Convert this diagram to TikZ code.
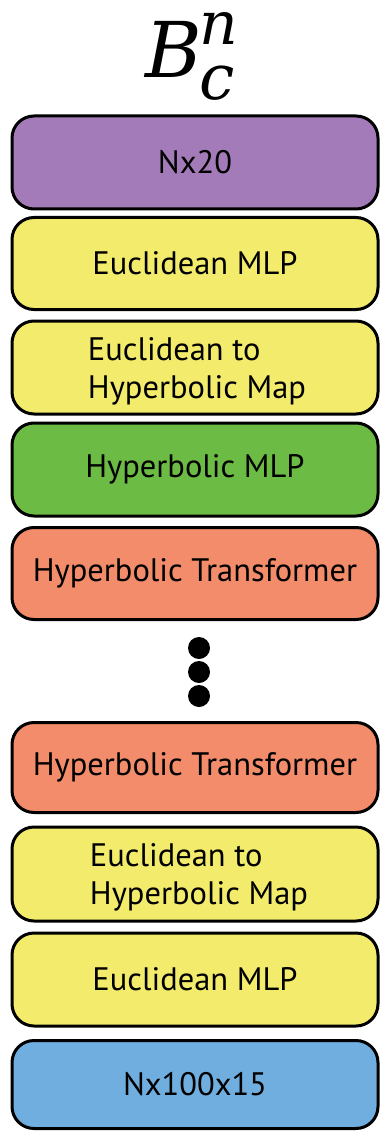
\documentclass[tikz,border=0pt]{standalone}
\usepackage{fontspec}
\newfontfamily\labelfont{PT Sans}
\newfontfamily\symbolfont{DejaVu Serif}
\definecolor{inputpurple}{HTML}{A47BB9}
\definecolor{eucyellow}{HTML}{F3EB6C}
\definecolor{hypgreen}{HTML}{6CBB45}
\definecolor{transorange}{HTML}{F28C6A}
\definecolor{outblue}{HTML}{6FAEDF}
\begin{document}
\begin{tikzpicture}[x=1pt,y=-1pt,
  layerbox/.style={draw=black, line width=3pt, rounded corners=22pt,
    minimum width=366pt, inner sep=0pt,
    font=\labelfont\fontsize{32.5}{38}\selectfont},
  mapbox/.style={layerbox, fill=eucyellow},
  maptext/.style={inner sep=0pt, align=left,
    font=\labelfont\fontsize{32.5}{38}\selectfont},
  dotnode/.style={circle, fill=black, inner sep=0pt, minimum size=22pt},
  titlenode/.style={inner sep=0pt, anchor=base west,
    font=\symbolfont\itshape\fontsize{77}{77}\selectfont}]
\useasboundingbox (0,0) rectangle (380,1131);

% title symbol: B with subscript c and superscript n
\node[titlenode] (title) at (145,78)
  {B\kern-2pt\rlap{\raisebox{33pt}[20pt][0pt]{\fontsize{60}{60}\selectfont n}}%
   \raisebox{-22pt}[0pt][22pt]{\fontsize{63}{63}\selectfont c}};

% encoder stack
\node[layerbox, fill=inputpurple, minimum height=93pt] (inp) at (195,162.5) {Nx20};
\node[layerbox, fill=eucyellow, minimum height=92pt] (emlp1) at (195,263.5) {Euclidean MLP};
\node[mapbox, minimum height=93pt] (map1) at (195,367.5) {};
\node[maptext] (map1t) at (197,371) {Euclidean to\\Hyperbolic Map};
\node[layerbox, fill=hypgreen, minimum height=93pt] (hmlp) at (195,469.5) {Hyperbolic MLP};
\node[layerbox, fill=transorange, minimum height=92pt] (tr1) at (195,573.5) {Hyperbolic Transformer};

% repeated blocks
\node[dotnode] (dot1) at (199,648) {};
\node[dotnode] (dot2) at (199,672) {};
\node[dotnode] (dot3) at (199,696) {};

% decoder stack
\node[layerbox, fill=transorange, minimum height=90pt] (tr2) at (195,767.5) {Hyperbolic Transformer};
\node[mapbox, minimum height=94pt] (map2) at (195,874) {};
\node[maptext] (map2t) at (199,877) {Euclidean to\\Hyperbolic Map};
\node[layerbox, fill=eucyellow, minimum height=93pt] (emlp2) at (195,979.5) {Euclidean MLP};
\node[layerbox, fill=outblue, minimum height=88pt] (out) at (195,1084.5) {Nx100x15};
\end{tikzpicture}
\end{document}
